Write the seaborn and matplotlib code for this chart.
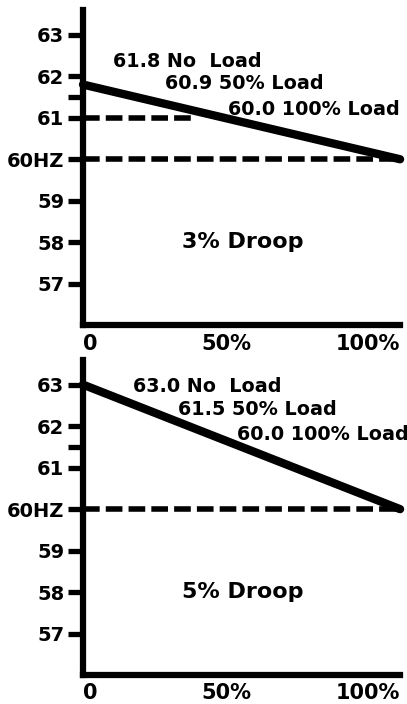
import matplotlib
matplotlib.use("Agg")
import matplotlib.pyplot as plt
import pandas as pd
import seaborn as sns
from matplotlib.transforms import ScaledTranslation

# ---- data ----
load_pct = [0, 50, 100]
droop3_hz = [61.8, 60.9, 60.0]
droop5_hz = [63.0, 61.5, 60.0]
load_names = ["No  Load", "50% Load", "100% Load"]
droop_titles = ["3% Droop", "5% Droop"]
ytick_vals = [57, 58, 59, 60, 61, 62, 63]
ytick_labels = ["57", "58", "59", "60HZ", "61", "62", "63"]
minor_ticks = [61.5]
xtick_vals = [0, 50, 100]
xtick_labels = ["0", "50%", "100%"]
nominal_x = [0, 100]
nominal_hz = [60, 60]
ref61_x = [0, 35]
ref61_hz = [61, 61]

sns.set_theme(style="white")
plt.rcParams['font.family'] = ['DejaVu Sans']
plt.rcParams['font.weight'] = 'bold'

fig = plt.figure(figsize=(4.07, 7.04), dpi=100)
ax1 = fig.add_axes([0.204, 0.538, 0.779, 0.448])
ax2 = fig.add_axes([0.204, 0.041, 0.779, 0.448])

# label positions (layout)
label_pos = [
    [(9.5, 62.35), (25.9, 61.82), (45.7, 61.2)],
    [(15.8, 62.95), (30.0, 62.4), (48.6, 61.8)],
]

dash = (0, (3.0, 1.1))
for i, (ax, vals) in enumerate(zip([ax1, ax2], [droop3_hz, droop5_hz])):
    df = pd.DataFrame({"load": load_pct, "hz": vals})
    # dashed reference lines
    ax.plot(nominal_x, nominal_hz, color="black", lw=4, ls=dash,
            dash_capstyle="butt", clip_on=False, zorder=2)
    if i == 0:
        ax.plot(ref61_x, ref61_hz, color="black", lw=4, ls=dash,
                dash_capstyle="butt", clip_on=False, zorder=2)
    sns.lineplot(data=df, x="load", y="hz", ax=ax, color="black", lw=6,
                 zorder=3, clip_on=False)
    for (x, y), v, name in zip(label_pos[i], vals, load_names):
        ax.text(x, y, f"{v:.1f} {name}", fontsize=13.8, fontweight="bold",
                ha="left", va="center", color="black", clip_on=False)
    ax.text(50.5, 58.0, droop_titles[i], fontsize=16, fontweight="bold",
            ha="center", va="center", color="black")

    ax.set_xlim(0, 100)
    ax.set_ylim(56, 63.6)
    ax.set_xlabel("")
    ax.set_ylabel("")
    for s in ["top", "right"]:
        ax.spines[s].set_visible(False)
    for s in ["left", "bottom"]:
        ax.spines[s].set_linewidth(4.5)
        ax.spines[s].set_color("black")
    ax.set_yticks(ytick_vals)
    ax.set_yticklabels(ytick_labels, fontsize=14, fontweight="bold")
    ax.set_yticks(minor_ticks, minor=True)
    ax.tick_params(axis="y", which="both", left=True, length=10.5, width=3.8,
                   color="black", direction="out", pad=3, labelcolor="black")
    ax.set_xticks(xtick_vals)
    ax.set_xticklabels(xtick_labels, fontsize=15, fontweight="bold")
    ax.tick_params(axis="x", length=0, pad=6, labelcolor="black")
    tl = ax.get_xticklabels()
    tl[0].set_ha("left")
    tl[2].set_ha("right")
    tl[1].set_transform(tl[1].get_transform() +
                        ScaledTranslation(-15.5 / 100, 0, fig.dpi_scale_trans))
    ax.grid(False)

fig.savefig("out.png", dpi=100)
